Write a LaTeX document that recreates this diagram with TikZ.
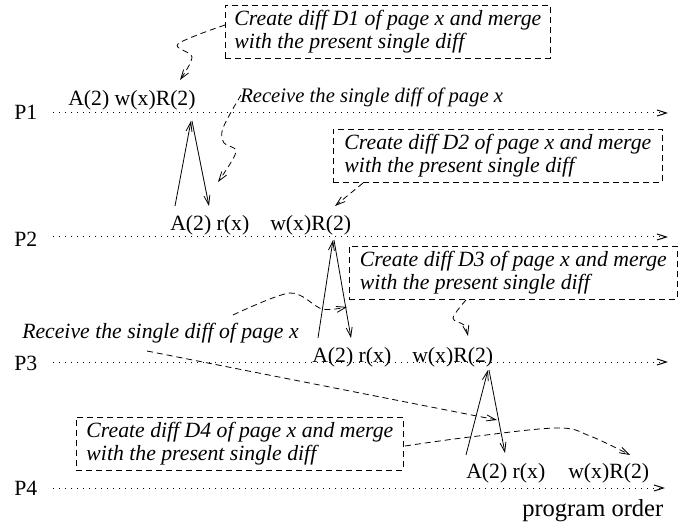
\documentclass[tikz,border=0pt]{standalone}
\usepackage{fontspec}
\setmainfont{Liberation Serif}
\usetikzlibrary{arrows.meta}
\begin{document}
\begin{tikzpicture}[x=0.75pt,y=-0.75pt,
  every node/.style={font=\fontsize{16.3pt}{17.25pt}\selectfont, inner sep=0pt},
  lbl/.style={anchor=base west},
  note/.style={anchor=base west, font=\fontsize{16.3pt}{17.25pt}\selectfont\itshape},
  dbox/.style={draw, line width=0.6pt, dash pattern=on 4.5pt off 3pt, anchor=north west,
    align=left, inner xsep=0pt, inner ysep=0pt, minimum height=39.75pt,
    font=\fontsize{16.3pt}{17.25pt}\selectfont\itshape},
  tip/.style={-{Straight Barb[length=7pt,width=4.5pt]}},
  procline/.style={line width=0.75pt, dash pattern=on 0.75pt off 3.75pt, tip},
  msg/.style={line width=0.6pt, tip},
  dashline/.style={line width=0.6pt, dash pattern=on 4.5pt off 3pt, tip}
]
\useasboundingbox (0,0) rectangle (683,528);

% process labels and lines
\node[lbl] (p1) at (14,120) {P1};
\node[lbl] (p2) at (14,247) {P2};
\node[lbl] (p3) at (14,370) {P3};
\node[lbl] (p4) at (14,495) {P4};
\coordinate (p1s) at (53,113);  \coordinate (p1e) at (668,113);
\coordinate (p2s) at (53,237);  \coordinate (p2e) at (668,237);
\coordinate (p3s) at (53,362);  \coordinate (p3e) at (668,362);
\coordinate (p4s) at (53,488);  \coordinate (p4e) at (665,488);
\draw[procline] (p1s) -- (p1e);
\draw[procline] (p2s) -- (p2e);
\draw[procline] (p3s) -- (p3e);
\draw[procline] (p4s) -- (p4e);

% event labels
\node[lbl] (a1) at (68,106) {A(2) w(x)R(2)};
\node[note, font=\fontsize{15.5pt}{17pt}\selectfont\itshape] (rcv1) at (240,103) {Receive the single diff of page x};
\node[lbl] (a2) at (170,230) {A(2) r(x)};
\node[lbl] (w2) at (270,230) {w(x)R(2)};
\node[lbl] (a3) at (312,362) {A(2) r(x)};
\node[lbl] (w3) at (412,362) {w(x)R(2)};
\node[note] (rcv3) at (22,338) {Receive the single diff of page x};
\node[lbl] (a4) at (466,478) {A(2) r(x)};
\node[lbl] (w4) at (568,478) {w(x)R(2)};
\node[lbl, font=\fontsize{18.4pt}{20pt}\selectfont] (po) at (522,516) {program order};

% dashed boxes
\node[dbox, minimum width=243.75pt] (d1) at (225,5)
  {Create diff D1 of page x and merge\\with the present single diff};
\node[dbox, minimum width=246.75pt] (d2) at (333,129)
  {Create diff D2 of page x and merge\\with the present single diff};
\node[dbox, minimum width=246pt] (d3) at (349,246)
  {Create diff D3 of page x and merge\\with the present single diff};
\node[dbox, minimum width=245.25pt] (d4) at (76,417)
  {Create diff D4 of page x and merge\\with the present single diff};

% message arrows
\coordinate (m1a) at (175,206); \coordinate (m1b) at (191,121);
\coordinate (m1c) at (192,121); \coordinate (m1d) at (209,206);
\coordinate (m2a) at (318,338); \coordinate (m2b) at (333,240);
\coordinate (m2c) at (334,240); \coordinate (m2d) at (351,338);
\coordinate (m3a) at (466,455); \coordinate (m3b) at (488,370);
\coordinate (m3c) at (489,370); \coordinate (m3d) at (505,453);
\draw[msg] (m1a) -- (m1b);
\draw[msg] (m1c) -- (m1d);
\draw[msg] (m2a) -- (m2b);
\draw[msg] (m2c) -- (m2d);
\draw[msg] (m3a) -- (m3b);
\draw[msg] (m3c) -- (m3d);

% dashed connectors
\coordinate (c1s) at (225,25);  \coordinate (c1e) at (180,80);
\draw[dashline] plot[smooth, tension=0.55] coordinates {(c1s) (178,44) (192,57) (c1e)};
\coordinate (c2s) at (241,95);  \coordinate (c2e) at (218,182);
\draw[dashline] plot[smooth, tension=0.55] coordinates {(c2s) (223,128) (224,143) (236,152) (c2e)};
\coordinate (c3s) at (363,183); \coordinate (c3e) at (335,206);
\draw[dashline] (c3s) -- (c3e);
\coordinate (c4s) at (466,300); \coordinate (c4e) at (468,336);
\draw[dashline] plot[smooth, tension=0.55] coordinates {(c4s) (453,318) (464,325) (c4e)};
\coordinate (c5s) at (233,315); \coordinate (c5e) at (347,307);
\draw[dashline] plot[smooth, tension=0.5] coordinates {(c5s) (290,293) (322,309) (c5e)};
\coordinate (c6s) at (147,351); \coordinate (c6e) at (497,420);
\draw[dashline] (c6s) -- (c6e);
\coordinate (c7s) at (405,446); \coordinate (c7e) at (630,455);
\draw[dashline] plot[smooth, tension=0.6] coordinates {(c7s) (470,437) (557,428) (590,436) (c7e)};
\end{tikzpicture}
\end{document}
